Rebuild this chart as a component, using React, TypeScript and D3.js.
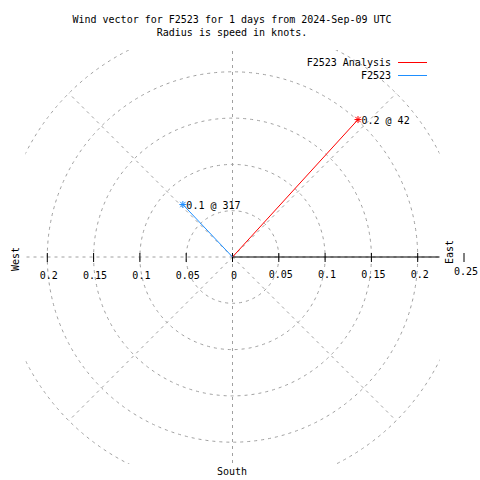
import React from "react";
import * as d3 from "d3";

const seriesNames = ["F2523 Analysis", "F2523"];
const seriesColors = ["#ff0000", "#1e8fff"];
const speeds = [0.201, 0.078];
const directions = [42.4, 316.6];
const pointLabels = ["0.2 @ 42", "0.1 @ 317"];
const ringValues = [0.05, 0.1, 0.15, 0.2, 0.25];
const westTicks = [0, 0.05, 0.1, 0.15, 0.2];
const westTickLabels = ["0", "0.05", "0.1", "0.15", "0.2"];
const eastTicks = [0.05, 0.1, 0.15, 0.2];
const eastTickLabels = ["0.05", "0.1", "0.15", "0.2"];
const outerTick = 0.25;
const outerTickLabel = "0.25";
const gridAngles = [0, 45, 90, 135, 180, 225, 270, 315];
const titleLines = [
  "Wind vector for F2523 for 1 days from 2024-Sep-09 UTC",
  "Radius is speed in knots.",
];

const W = 480;
const H = 480;
const cx = 232.5;
const cy = 257;
const FONT = "'DejaVu Sans Mono', monospace";
const GRID = "#a0a0a0";

export default function App() {
  const r = d3.scaleLinear().domain([0, 0.25]).range([0, 231.5]);
  const clipR = 207;
  const pt = (v: number, deg: number) => {
    const a = (deg * Math.PI) / 180;
    return [cx + r(v) * Math.sin(a), cy - r(v) * Math.cos(a)];
  };
  const xEast = (v: number) => cx + r(v);
  const xWest = (v: number) => cx - r(v);
  const line = d3.line<number[]>().x((d) => d[0]).y((d) => d[1]);

  return (
    <svg
      width={W}
      height={H}
      style={{ position: "absolute", left: 0, top: 0, background: "#fff" }}
      fontFamily={FONT}
      fontSize={10}
    >
      <defs>
        <clipPath id="plotclip">
          <rect x={cx - clipR} y={cy - clipR} width={clipR * 2} height={clipR * 2} />
        </clipPath>
      </defs>
      <rect x={0} y={0} width={W} height={H} fill="#fff" />
      {titleLines.map((t, i) => (
        <text key={t} x={232} y={23 + i * 13} textAnchor="middle" fill="#000">
          {t}
        </text>
      ))}
      <g clipPath="url(#plotclip)">
        {ringValues.map((v) => (
          <circle
            key={v}
            cx={cx}
            cy={cy}
            r={r(v)}
            fill="none"
            stroke={GRID}
            strokeWidth={1}
            strokeDasharray="3,4"
          />
        ))}
        {gridAngles.map((a) => {
          const p = pt(0.25, a);
          return (
            <path
              key={a}
              d={line([[cx, cy], p]) || ""}
              stroke={GRID}
              strokeWidth={1}
              strokeDasharray="3,4"
              fill="none"
            />
          );
        })}
        <path d={line([[cx, cy], [xEast(0.25), cy]]) || ""} stroke="#000" strokeWidth={1} />
      </g>
      {westTicks.map((v) => (
        <line key={"wt" + v} x1={xWest(v)} x2={xWest(v)} y1={cy - 4} y2={cy + 5} stroke="#000" />
      ))}
      {eastTicks.concat([outerTick]).map((v) => (
        <line key={"et" + v} x1={xEast(v)} x2={xEast(v)} y1={cy - 4} y2={cy + 5} stroke="#000" />
      ))}
      {westTicks.map((v, i) => (
        <text key={"wl" + v} x={xWest(v) + 1.5} y={279} textAnchor="middle" fill="#000">
          {westTickLabels[i]}
        </text>
      ))}
      {eastTicks.map((v, i) => (
        <text key={"el" + v} x={xEast(v) + 2} y={278} textAnchor="middle" fill="#000">
          {eastTickLabels[i]}
        </text>
      ))}
      <text x={xEast(outerTick) + 2} y={275} textAnchor="middle" fill="#000">
        {outerTickLabel}
      </text>
      <text transform="translate(19,259) rotate(-90)" textAnchor="middle" fill="#000">
        West
      </text>
      <text transform="translate(453,252) rotate(-90)" textAnchor="middle" fill="#000">
        East
      </text>
      <text x={232} y={475} textAnchor="middle" fill="#000">
        South
      </text>
      {speeds.map((s, i) => {
        const p = pt(s, directions[i]);
        const c = seriesColors[i];
        const m = 3.5;
        return (
          <g key={"s" + i}>
            <path d={line([[cx, cy], p]) || ""} stroke={c} strokeWidth={1} fill="none" />
            <line x1={p[0] - m} x2={p[0] + m} y1={p[1]} y2={p[1]} stroke={c} />
            <line x1={p[0]} x2={p[0]} y1={p[1] - m} y2={p[1] + m} stroke={c} />
            <line x1={p[0] - m + 0.8} x2={p[0] + m - 0.8} y1={p[1] - m + 0.8} y2={p[1] + m - 0.8} stroke={c} />
            <line x1={p[0] - m + 0.8} x2={p[0] + m - 0.8} y1={p[1] + m - 0.8} y2={p[1] - m + 0.8} stroke={c} />
            <text x={p[0] + 3.5} y={p[1] + 4} fill="#000">
              {pointLabels[i]}
            </text>
          </g>
        );
      })}
      {seriesNames.map((n, i) => (
        <g key={"lg" + n}>
          <text x={391} y={66 + i * 13} textAnchor="end" fill="#000">
            {n}
          </text>
          <line x1={398} x2={427} y1={62.5 + i * 13} y2={62.5 + i * 13} stroke={seriesColors[i]} />
        </g>
      ))}
    </svg>
  );
}
